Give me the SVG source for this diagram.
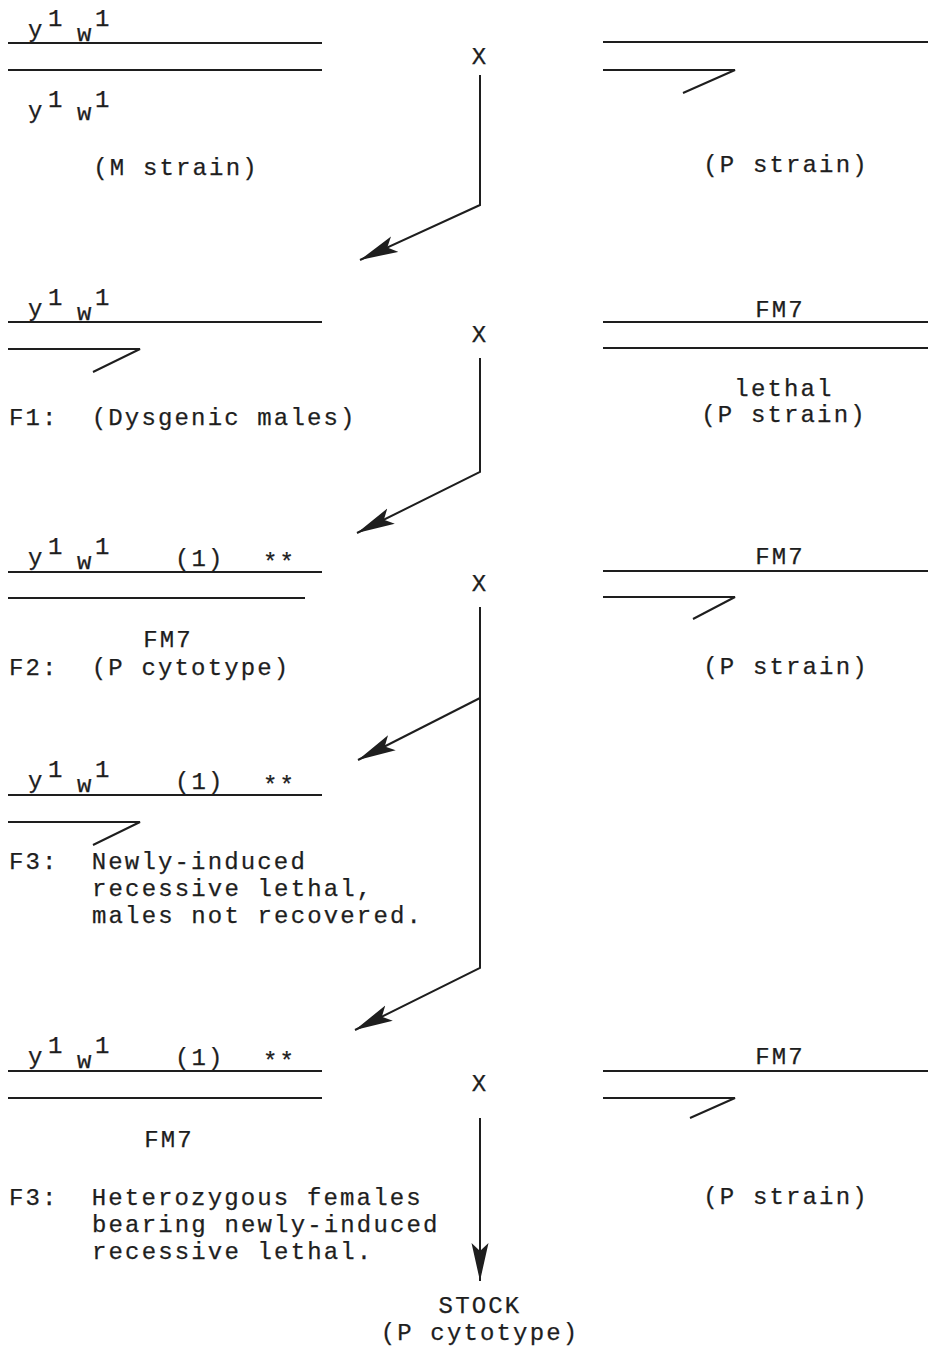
<svg xmlns="http://www.w3.org/2000/svg" width="928" height="1349" viewBox="0 0 928 1349">
<defs>
<style>
text{font-family:"Liberation Mono","Courier New",monospace;font-size:24px;letter-spacing:2.15px;fill:#1e1e1e;stroke:#1e1e1e;stroke-width:0.25}
.c{text-anchor:middle}
.ch{fill:none;stroke:#1e1e1e;stroke-width:2;stroke-linejoin:miter}
.cn{fill:none;stroke:#1e1e1e;stroke-width:2}
</style>
<marker id="ah" markerUnits="userSpaceOnUse" markerWidth="40" markerHeight="20" viewBox="0 0 40 20" refX="38" refY="10" orient="auto">
<path d="M0,1.5 L38,10 L0,18.5 L8,10 Z" fill="#1e1e1e"/>
</marker>
</defs>
<rect width="928" height="1349" fill="#fff"/>

<g id="p-female-m">
<path class="ch" d="M8,43H322M8,70H322"/>
<text x="28" y="37">y</text><text x="48" y="26">1</text><text x="77" y="41">w</text><text x="95" y="26">1</text>
<text x="28" y="118">y</text><text x="48" y="107">1</text><text x="77" y="120">w</text><text x="95" y="107">1</text>
<text class="c" x="176" y="175">(M strain)</text>
</g>
<g id="cross1"><text class="c" x="480" y="64">X</text></g>
<g id="p-male-p">
<path class="ch" d="M603,42H928M603,70H735L683,93"/>
<text class="c" x="786" y="172">(P strain)</text>
</g>

<g id="f1-male">
<path class="ch" d="M8,322H322M8,349H140L93,372"/>
<text x="28" y="316">y</text><text x="48" y="305">1</text><text x="77" y="320">w</text><text x="95" y="305">1</text>
<text x="9" y="425" xml:space="preserve">F1:  (Dysgenic males)</text>
</g>
<g id="cross2"><text class="c" x="480" y="342">X</text></g>
<g id="fm7-female-lethal">
<text class="c" x="780" y="317">FM7</text>
<path class="ch" d="M603,322H928M603,348H928"/>
<text class="c" x="784" y="396">lethal</text>
<text class="c" x="784" y="422">(P strain)</text>
</g>

<g id="f2-female">
<text x="28" y="565">y</text><text x="48" y="554">1</text><text x="77" y="569">w</text><text x="95" y="554">1</text>
<text x="175" y="566">(1)</text><text x="263" y="570">**</text>
<path class="ch" d="M8,572H322M8,598H305"/>
<text class="c" x="168" y="647">FM7</text>
<text x="9" y="675" xml:space="preserve">F2:  (P cytotype)</text>
</g>
<g id="cross3"><text class="c" x="480" y="591">X</text></g>
<g id="fm7-male">
<text class="c" x="780" y="564">FM7</text>
<path class="ch" d="M603,571H928M603,597H735L693,619"/>
<text class="c" x="786" y="674">(P strain)</text>
</g>

<g id="f3-male">
<text x="28" y="788">y</text><text x="48" y="777">1</text><text x="77" y="792">w</text><text x="95" y="777">1</text>
<text x="175" y="789">(1)</text><text x="263" y="793">**</text>
<path class="ch" d="M8,795H322M8,822H140L93,845"/>
<text x="9" y="869" xml:space="preserve">F3:  Newly-induced</text>
<text x="92" y="896">recessive lethal,</text>
<text x="92" y="923">males not recovered.</text>
</g>

<g id="f3-female">
<text x="28" y="1064">y</text><text x="48" y="1053">1</text><text x="77" y="1068">w</text><text x="95" y="1053">1</text>
<text x="175" y="1065">(1)</text><text x="263" y="1069">**</text>
<path class="ch" d="M8,1071H322M8,1098H322"/>
<text class="c" x="169" y="1147">FM7</text>
<text x="9" y="1205" xml:space="preserve">F3:  Heterozygous females</text>
<text x="92" y="1232">bearing newly-induced</text>
<text x="92" y="1259">recessive lethal.</text>
</g>
<g id="cross4"><text class="c" x="480" y="1091">X</text></g>
<g id="fm7-male-2">
<text class="c" x="780" y="1064">FM7</text>
<path class="ch" d="M603,1071H928M603,1098H735L690,1118"/>
<text class="c" x="786" y="1204">(P strain)</text>
</g>

<g id="stock">
<text class="c" x="480" y="1313">STOCK</text>
<text class="c" x="480" y="1340">(P cytotype)</text>
</g>

<g id="connectors">
<path class="cn" d="M480,75V205L360,260" marker-end="url(#ah)"/>
<path class="cn" d="M480,358V472L357,533" marker-end="url(#ah)"/>
<path class="cn" d="M480,607V968L355,1030" marker-end="url(#ah)"/>
<path class="cn" d="M480,698L358,760" marker-end="url(#ah)"/>
<path class="cn" d="M480,1118V1281" marker-end="url(#ah)"/>
</g>
</svg>
